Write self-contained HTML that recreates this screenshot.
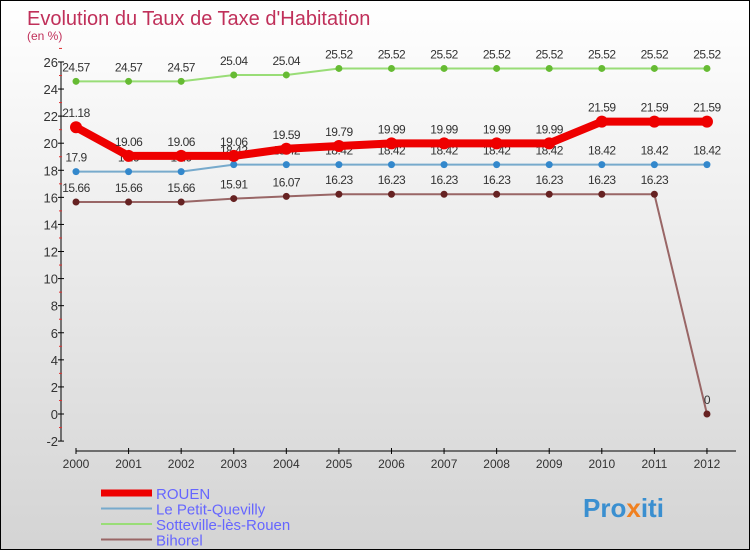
<!DOCTYPE html>
<html><head><meta charset="utf-8"><style>
body{margin:0}
#c{width:750px;height:550px;position:relative;box-sizing:border-box;border:1px solid #000;background:linear-gradient(#ffffff,#d4d4d4);font-family:"Liberation Sans",sans-serif;overflow:hidden}
svg text{font-family:"Liberation Sans",sans-serif}
</style></head><body>
<div id="c">
<svg width="750" height="550" id="s">
<text x="26" y="24" font-size="20" fill="#c0305a">Evolution du Taux de Taxe d'Habitation</text>
<text x="26" y="39" font-size="12" fill="#c0305a">(en %)</text>
<g id="axes"></g><g id="series"></g><g id="legend"></g>
<text x="582" y="516" font-size="26" font-weight="bold" fill="#3a8fd0">Pro<tspan fill="#f08020">x</tspan>iti</text>
</svg></div>
<script>
const years=[2000,2001,2002,2003,2004,2005,2006,2007,2008,2009,2010,2011,2012];
const rouen=[21.18,19.06,19.06,19.06,19.59,19.79,19.99,19.99,19.99,19.99,21.59,21.59,21.59];
const petit=[17.9,17.9,17.9,18.42,18.42,18.42,18.42,18.42,18.42,18.42,18.42,18.42,18.42];
const sotte=[24.57,24.57,24.57,25.04,25.04,25.52,25.52,25.52,25.52,25.52,25.52,25.52,25.52];
const bih=[15.66,15.66,15.66,15.91,16.07,16.23,16.23,16.23,16.23,16.23,16.23,16.23,0];
const yTicks=[-2,0,2,4,6,8,10,12,14,16,18,20,22,24,26];
const NS="http://www.w3.org/2000/svg";
function X(i){return 75+i*52.58;}
function Y(v){return 413-v*13.54;}
function mk(p,t,a){const e=document.createElementNS(NS,t);for(const k in a)e.setAttribute(k,a[k]);p.appendChild(e);return e;}
const ax=document.getElementById('axes');
let yl=mk(ax,'line',{x1:60,y1:Y(26),x2:60,y2:Y(-2),stroke:'#000'});

let xl=mk(ax,'line',{x1:45+30,y1:450,x2:735,y2:450,stroke:'#000'});

yTicks.forEach(v=>{
 mk(ax,'line',{x1:57,y1:Y(v),x2:63,y2:Y(v),stroke:'#000'});
 mk(ax,'line',{x1:58,y1:Y(v+1),x2:61,y2:Y(v+1),stroke:'#e03030'});
 const t=mk(ax,'text',{x:57,y:Y(v)+5,'text-anchor':'end','font-size':13,fill:'#333'});t.textContent=v;
 
});
years.forEach((y,i)=>{
 mk(ax,'line',{x1:X(i),y1:447,x2:X(i),y2:453,stroke:'#000'});
 const t=mk(ax,'text',{x:X(i),y:467,'text-anchor':'middle','font-size':12,fill:'#333'});t.textContent=y;
 
});
const sg=document.getElementById('series');
function draw(vals,col,w,r,dot,name){
 const g=mk(sg,'g',{});
 
 mk(g,'polyline',{points:vals.map((v,i)=>X(i)+','+Y(v)).join(' '),fill:'none',stroke:col,'stroke-width':w,'stroke-linejoin':'round'});
 vals.forEach((v,i)=>{
  const c=mk(g,'circle',{cx:X(i),cy:Y(v),r:r,fill:dot});
  
  const t=mk(g,'text',{x:X(i),y:Y(v)-10,'text-anchor':'middle','font-size':12,fill:'#333','letter-spacing':'-0.5'});t.textContent=v;
  
 });
}
draw(sotte,'#99dd77',2,3.5,'#66bb33','sotteville-series');
draw(petit,'#77aacc',2,3.5,'#3388cc','petit-quevilly-series');
draw(bih,'#996666',2,3.5,'#662222','bihorel-series');
draw(rouen,'#ee0000',8,6,'#ee0000','rouen-series');
const lg=document.getElementById('legend');
const names=['ROUEN','Le Petit-Quevilly','Sotteville-lès-Rouen','Bihorel'];
const cols=['#ee0000','#77aacc','#99dd77','#996666'];
const ws=[7,2,2,2];
names.forEach((n,i)=>{
 const yy=492+i*15.5;
 const l=mk(lg,'line',{x1:100,y1:yy,x2:151,y2:yy,stroke:cols[i],'stroke-width':ws[i]});
 
 const t=mk(lg,'text',{x:155,y:yy+6,'font-size':15,fill:'#6666ff'});t.textContent=n;
 
});
</script></body></html>
